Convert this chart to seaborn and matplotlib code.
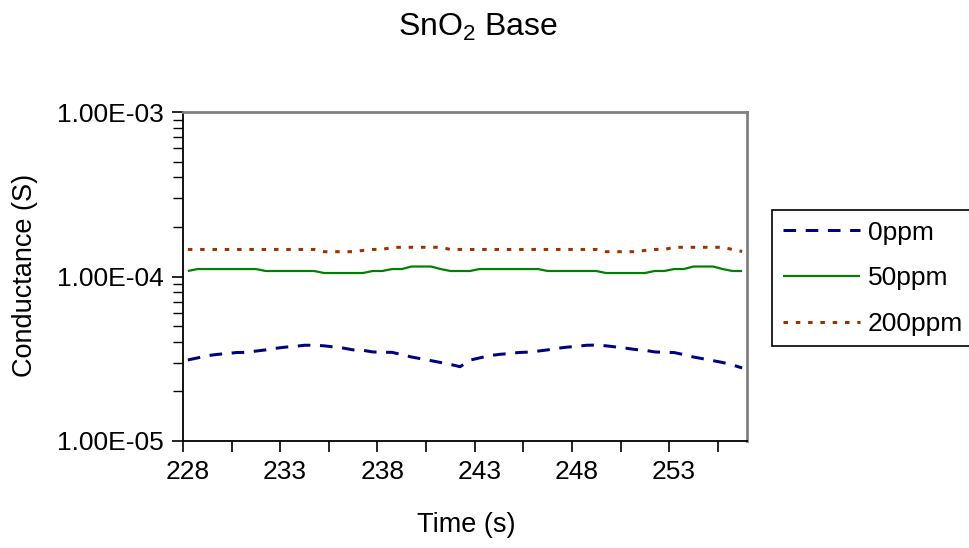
import numpy as np
import pandas as pd
import matplotlib
matplotlib.use("Agg")
import matplotlib.pyplot as plt
import matplotlib.ticker as mticker
import seaborn as sns

# ---- data ----
time_s = np.arange(228.0, 257.0, 0.5)   # 58 samples, 0.5 s apart

ppm0 = [3.11, 3.20, 3.30, 3.36, 3.40, 3.45, 3.46, 3.52, 3.58, 3.66, 3.72, 3.76, 3.82, 3.82,
        3.79, 3.73, 3.67, 3.58, 3.56, 3.48, 3.46, 3.46, 3.35, 3.24, 3.16, 3.08, 3.00, 2.92, 2.83,
        3.10, 3.20, 3.30, 3.36, 3.40, 3.45, 3.47, 3.52, 3.58, 3.66, 3.72, 3.76, 3.82, 3.83,
        3.79, 3.73, 3.67, 3.60, 3.56, 3.48, 3.46, 3.45, 3.35, 3.24, 3.16, 3.08, 3.00, 2.90, 2.78]
ppm50 = [1.08, 1.11, 1.11, 1.11, 1.11, 1.11, 1.11, 1.11, 1.08, 1.08, 1.08, 1.08, 1.08, 1.08,
         1.05, 1.05, 1.05, 1.05, 1.05, 1.08, 1.08, 1.11, 1.11, 1.15, 1.15, 1.15, 1.11, 1.08, 1.08,
         1.08, 1.11, 1.11, 1.11, 1.11, 1.11, 1.11, 1.11, 1.08, 1.08, 1.08, 1.08, 1.08, 1.08,
         1.05, 1.05, 1.05, 1.05, 1.05, 1.08, 1.08, 1.11, 1.11, 1.15, 1.15, 1.15, 1.11, 1.08, 1.08]
ppm200 = [1.46, 1.46, 1.46, 1.46, 1.46, 1.46, 1.46, 1.46, 1.46, 1.46, 1.46, 1.46, 1.46, 1.46,
          1.415, 1.415, 1.415, 1.415, 1.44, 1.46, 1.46, 1.505, 1.505, 1.505, 1.505, 1.505, 1.505, 1.46, 1.46,
          1.46, 1.46, 1.46, 1.46, 1.46, 1.46, 1.46, 1.46, 1.46, 1.46, 1.46, 1.46, 1.46, 1.46,
          1.415, 1.415, 1.415, 1.415, 1.44, 1.46, 1.46, 1.505, 1.505, 1.505, 1.505, 1.505, 1.505, 1.46, 1.42]

series_names = ["0ppm", "50ppm", "200ppm"]
x_labels = [228, 233, 238, 243, 248, 253]

df = pd.DataFrame({"time": time_s,
                   "0ppm": np.array(ppm0) * 1e-5,
                   "50ppm": np.array(ppm50) * 1e-4,
                   "200ppm": np.array(ppm200) * 1e-4})

# ---- style ----
sns.set_theme(style="white")
plt.rcParams["font.family"] = ["Liberation Sans", "DejaVu Sans"]
plt.rcParams["mathtext.fontset"] = "custom"
plt.rcParams["mathtext.rm"] = "Liberation Sans"
plt.rcParams["mathtext.it"] = "Liberation Sans:italic"
plt.rcParams["mathtext.bf"] = "Liberation Sans:bold"
for k in ["text.color", "axes.labelcolor", "xtick.color", "ytick.color",
          "xtick.labelcolor", "ytick.labelcolor", "legend.labelcolor"]:
    plt.rcParams[k] = "black"

W, H = 969, 548
fig = plt.figure(figsize=(W / 100, H / 100), dpi=100)
fig.patch.set_facecolor("white")
ax = fig.add_axes([183 / W, 1 - 441 / H, 564 / W, 329 / H])
ax.set_facecolor("white")

colors = {"0ppm": "#000080", "50ppm": "#008000", "200ppm": "#993300"}
lw_px = {"0ppm": 3.0, "50ppm": 2.2, "200ppm": 3.0}
handles = []
for name in series_names:
    sns.lineplot(data=df, x="time", y=name, ax=ax, color=colors[name],
                 linewidth=lw_px[name] * 0.72, label=name, legend=False)
    ln = ax.lines[-1]
    if name == "0ppm":
        ln.set_dashes([4.2, 3.2])
    elif name == "200ppm":
        ln.set_dashes([1.5, 2.6])
    ln.set_solid_capstyle("butt")
    ln.set_dash_capstyle("butt")
    handles.append(ln)

ax.set_yscale("log")
ax.set_ylim(1e-5, 1e-3)
ax.set_xlim(227.75, 256.75)

ax.yaxis.set_major_locator(mticker.FixedLocator([1e-5, 1e-4, 1e-3]))
ax.yaxis.set_major_formatter(mticker.FuncFormatter(lambda v, p: f"{v:.2E}"))
ax.yaxis.set_minor_locator(mticker.LogLocator(base=10, subs=np.arange(2, 10)))
ax.yaxis.set_minor_formatter(mticker.NullFormatter())

ax.set_xticks(x_labels)
ax.set_xticklabels([str(v) for v in x_labels])
ax.set_xticks(np.arange(227.75, 256.0, 2.5), minor=True)

ax.tick_params(axis="y", which="major", direction="out", length=8, width=1.2,
               color="black", labelcolor="black", labelsize=19, pad=6, left=True)
ax.tick_params(axis="y", which="minor", direction="out", length=7, width=1.0,
               color="black", left=True)
ax.tick_params(axis="x", which="major", length=0, labelsize=19, pad=14,
               labelcolor="black", bottom=True)
ax.tick_params(axis="x", which="minor", direction="out", length=8, width=1.2,
               color="black", bottom=True)

for side in ["left", "bottom"]:
    ax.spines[side].set_color("black")
    ax.spines[side].set_linewidth(1.3)
for side in ["top", "right"]:
    ax.spines[side].set_color("#808080")
    ax.spines[side].set_linewidth(2.0)
    ax.spines[side].set_visible(True)
ax.grid(False)

ax.set_xlabel("")
ax.set_ylabel("")
fig.text(466 / W, 1 - 525 / H, "Time (s)", ha="center", va="center",
         fontsize=19.5, color="black")
fig.text(25 / W, 1 - 275 / H, "Conductance (S)", ha="center", va="center",
         rotation=90, fontsize=19.5, color="black")
fig.text(478 / W, 1 - 27 / H, r"SnO$_\mathregular{2}$ Base", ha="center", va="center",
         fontsize=23, color="black")

leg = fig.legend(handles=handles, labels=series_names,
                 loc="upper left", bbox_to_anchor=(772 / W, 1 - 343 / H, 230 / W, 133 / H),
                 bbox_transform=fig.transFigure, mode="expand", borderaxespad=0,
                 fontsize=19, frameon=True, fancybox=False, shadow=False,
                 handlelength=2.95, handletextpad=0.27, labelspacing=0.82,
                 borderpad=0.4)
leg.get_frame().set_edgecolor("black")
leg.get_frame().set_linewidth(1.2)
leg.get_frame().set_facecolor("white")
leg.get_frame().set_alpha(1)
for t in leg.get_texts():
    t.set_color("black")

fig.savefig("out.png", dpi=100, facecolor="white")
